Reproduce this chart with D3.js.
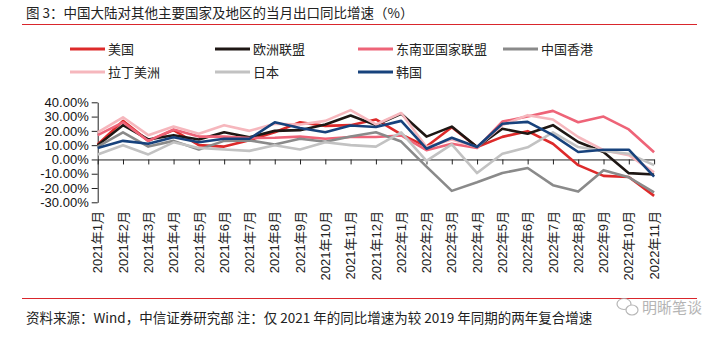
<!DOCTYPE html>
<html><head><meta charset="utf-8">
<script src="https://cdn.jsdelivr.net/npm/d3@7/dist/d3.min.js"></script>
<style>
body{margin:0;background:#fff;}
svg{display:block;font-family:"Liberation Sans",Arial,"Noto Sans CJK SC",sans-serif;}
</style></head>
<body><svg id="c" width="703" height="337"></svg>
<script>
const categories = ["2021年1月","2021年2月","2021年3月","2021年4月","2021年5月","2021年6月","2021年7月","2021年8月","2021年9月","2021年10月","2021年11月","2021年12月","2022年1月","2022年2月","2022年3月","2022年4月","2022年5月","2022年6月","2022年7月","2022年8月","2022年9月","2022年10月","2022年11月"];
const seriesNames = ["美国","欧洲联盟","东南亚国家联盟","中国香港","拉丁美洲","日本","韩国"];
const usa   = [10.5,27,13,20.5,10,9,13.5,19,26,23.5,24,28,17.5,9,22.5,8.7,15.8,19.8,11,-4,-11.5,-12.3,-25.5];
const eu    = [10,24,14,17,14,19,15.5,20,20.5,24.5,30.7,24,32,16,23,8.7,21.5,18,24,12.2,5.2,-9.6,-10.5];
const asean = [17,26,13,21,16,16,15,15.2,16,14.5,15.7,15.7,16.8,6.5,11,8,26.5,30,34,26,30,21,5];
const hk    = [9,19,9,13,7,13,13.3,10.5,14.5,12.4,16,19,12.5,-5,-22,-16,-9.5,-6,-18,-22.5,-7.5,-12.5,-23];
const latam = [19,29.5,17,23,18,24,20,25,24.5,27,34.5,24.5,32.5,8.7,14,8.7,24,31,28,15.7,6.5,3,-9];
const japan = [3.5,10,3.5,12,8,7,6,10,7,12,10,9,19,-1,10.5,-9.5,4,8.5,19,8.7,6,4,-4];
const korea = [8,13,11,15.5,12,14.5,14.5,26,22,19,23.8,22.7,27,7.5,15.2,8.7,25,26.3,17,5.2,6.8,6.8,-12];
const yTicks = [40,30,20,10,0,-10,-20,-30];

const colors = ["#dd2a2a","#1e1714","#ee6478","#8a8a8a","#f6b7bd","#c2c2c2","#17427c"];
const data = [usa,eu,asean,hk,latam,japan,korea];

const svg = d3.select("#c");
const font = '"Liberation Sans",Arial,"Noto Sans CJK SC",sans-serif';

// title
svg.append("text").attr("x",26).attr("y",18).attr("font-size",13.5).attr("fill","#222")
  .attr("font-family",'"Noto Sans CJK SC",sans-serif')
  .text("图 3：中国大陆对其他主要国家及地区的当月出口同比增速（%）");
svg.append("line").attr("x1",22).attr("x2",697).attr("y1",24.5).attr("y2",24.5)
  .attr("stroke","#d9262c").attr("stroke-width",1.2);

// legend
const legCols=[70,215,358,503];
seriesNames.forEach((n,i)=>{
  const col = i<4? i : i-4;
  const row = i<4? 0 : 1;
  const lx = legCols[col], ly = row===0? 49 : 72;
  svg.append("line").attr("x1",lx).attr("x2",lx+35).attr("y1",ly).attr("y2",ly)
    .attr("stroke",colors[i]).attr("stroke-width",3);
  svg.append("text").attr("x",lx+38).attr("y",ly).attr("dy","0.36em").attr("font-size",13)
    .attr("font-family",'"Noto Sans CJK SC",sans-serif').attr("fill","#222").text(n);
});

// scales
const x = d3.scalePoint().domain(categories).range([97.7,654.1]);
const y = d3.scaleLinear().domain([-30,40]).range([202.3,102.3]);

// y axis
const ya = svg.append("g").attr("transform","translate(97.7,0)")
  .call(d3.axisLeft(y).tickValues(yTicks).tickSize(6).tickSizeOuter(0).tickFormat(d=>d.toFixed(2)+"%"));
ya.selectAll("text").attr("font-size",13).attr("fill","#111").attr("font-family",font).attr("x",-9);
ya.selectAll("line,path").attr("stroke","#222");

// x axis at zero
const xa = svg.append("g").attr("transform",`translate(0,${y(0)})`)
  .call(d3.axisBottom(x).tickSize(5).tickSizeOuter(0).tickFormat(""));
xa.selectAll("line,path").attr("stroke","#222");

// x labels at bottom
const clip = svg.append("clipPath").attr("id","lc").append("rect").attr("x",0).attr("y",205).attr("width",703).attr("height",75);
const lg = svg.append("g").attr("clip-path","url(#lc)");
categories.forEach(c=>{
  lg.append("text").attr("transform",`translate(${x(c)},211) rotate(-90)`)
    .attr("text-anchor","end").attr("dy","0.36em").attr("font-size",13).attr("fill","#222")
    .attr("font-family",font).text(c);
});

// lines
const line = d3.line().x((d,i)=>x(categories[i])).y(d=>y(d));
data.forEach((s,i)=>{
  svg.append("path").datum(s).attr("d",line).attr("fill","none")
    .attr("stroke",colors[i]).attr("stroke-width",2.6).attr("stroke-linejoin","round");
});

// footer
svg.append("line").attr("x1",22).attr("x2",697).attr("y1",298.5).attr("y2",298.5)
  .attr("stroke","#d9262c").attr("stroke-width",1.2);
svg.append("text").attr("x",26).attr("y",323).attr("font-size",13.5).attr("fill","#222")
  .attr("font-family",'"Noto Sans CJK SC",sans-serif')
  .text("资料来源：Wind，中信证券研究部  注：仅 2021 年的同比增速为较 2019 年同期的两年复合增速");

// watermark
const wm = svg.append("g").attr("opacity",0.85);
wm.append("ellipse").attr("cx",624).attr("cy",304).attr("rx",7).attr("ry",5.5).attr("fill","#fff").attr("stroke","#aaa").attr("stroke-width",1.2);
wm.append("ellipse").attr("cx",632).attr("cy",310).attr("rx",6).attr("ry",5).attr("fill","#fff").attr("stroke","#aaa").attr("stroke-width",1.2);
wm.append("text").attr("x",642).attr("y",313).attr("font-size",15).attr("fill","#a8a8a8")
  .attr("font-family",'"Noto Sans CJK SC",sans-serif').text("明晰笔谈");
</script></body></html>
